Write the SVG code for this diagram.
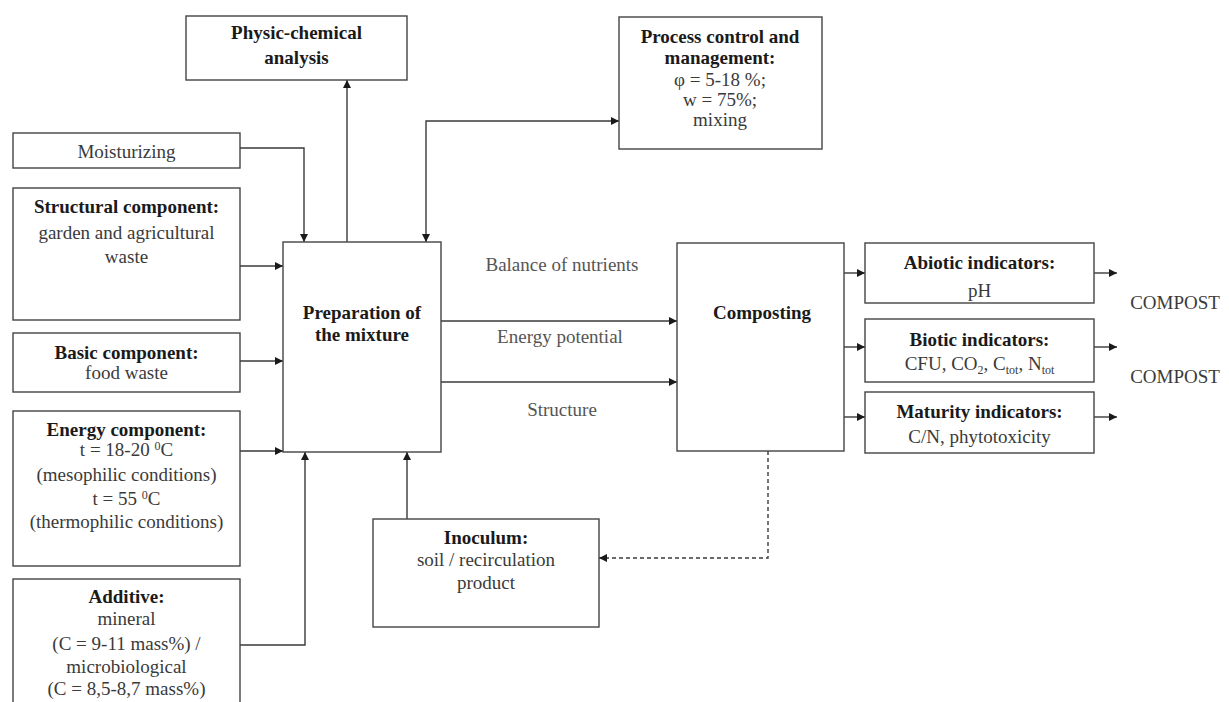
<svg xmlns="http://www.w3.org/2000/svg" width="1229" height="702" viewBox="0 0 1229 702" font-family="'Liberation Serif', 'DejaVu Serif', serif">
<defs>
<style>
.box{fill:#fff;stroke:#444;stroke-width:1.4}
.t{font-family:'Liberation Serif','DejaVu Serif',serif;font-size:19px;fill:#3a3a3a;text-anchor:middle}
.b{font-weight:bold;fill:#1a1a1a}
.g{fill:#555}
.c{fill:none;stroke:#3a3a3a;stroke-width:1.4}
.d{stroke-dasharray:4 3}
</style>
<marker id="ah" viewBox="0 0 10 10" refX="10" refY="5" markerWidth="9" markerHeight="8" markerUnits="userSpaceOnUse" orient="auto-start-reverse">
<path d="M0,0 L10,5 L0,10 z" fill="#1a1a1a"/>
</marker>
</defs>
<rect width="1229" height="702" fill="#fff"/>

<g id="connectors">
<path class="c" d="M347,242 V80" marker-end="url(#ah)"/>
<path class="c" d="M240,148 H304 V242" marker-end="url(#ah)"/>
<path class="c" d="M240,266 H283" marker-end="url(#ah)"/>
<path class="c" d="M240,361 H283" marker-end="url(#ah)"/>
<path class="c" d="M240,451 H283" marker-end="url(#ah)"/>
<path class="c" d="M240,645 H305 V452" marker-end="url(#ah)"/>
<path class="c" d="M407,519 V452" marker-end="url(#ah)"/>
<path class="c" d="M426,242 V121 H619" marker-start="url(#ah)" marker-end="url(#ah)"/>
<path class="c" d="M441,321 H677" marker-end="url(#ah)"/>
<path class="c" d="M441,382 H677" marker-end="url(#ah)"/>
<path class="c" d="M844,273 H865" marker-end="url(#ah)"/>
<path class="c" d="M844,347 H865" marker-end="url(#ah)"/>
<path class="c" d="M844,417 H865" marker-end="url(#ah)"/>
<path class="c" d="M1094,273 H1117" marker-end="url(#ah)"/>
<path class="c" d="M1094,347 H1117" marker-end="url(#ah)"/>
<path class="c" d="M1094,417 H1117" marker-end="url(#ah)"/>
<path class="c d" d="M768,451 V558 H599" marker-end="url(#ah)"/>
<text class="t g" x="562" y="271">Balance of nutrients</text>
<text class="t g" x="560" y="343">Energy potential</text>
<text class="t g" x="562" y="416">Structure</text>
</g>

<g id="physic-chemical">
<rect class="box" x="186" y="16" width="221" height="64"/>
<text class="t b" x="296.5" y="39">Physic-chemical</text>
<text class="t b" x="296.5" y="64">analysis</text>
</g>

<g id="moisturizing">
<rect class="box" x="13" y="133" width="227" height="35"/>
<text class="t" x="126.5" y="158">Moisturizing</text>
</g>

<g id="structural">
<rect class="box" x="13" y="188" width="227" height="132"/>
<text class="t b" x="126.5" y="213">Structural component:</text>
<text class="t" x="126.5" y="239">garden and agricultural</text>
<text class="t" x="126.5" y="263">waste</text>
</g>

<g id="basic">
<rect class="box" x="13" y="333" width="227" height="59"/>
<text class="t b" x="126.5" y="359">Basic component:</text>
<text class="t" x="126.5" y="379">food waste</text>
</g>

<g id="energy">
<rect class="box" x="13" y="411" width="227" height="155"/>
<text class="t b" x="126.5" y="436">Energy component:</text>
<text class="t" x="126.5" y="456">t = 18-20 <tspan font-size="12" dy="-6">0</tspan><tspan dy="6">C</tspan></text>
<text class="t" x="126.5" y="481">(mesophilic conditions)</text>
<text class="t" x="126.5" y="505">t = 55 <tspan font-size="12" dy="-6">0</tspan><tspan dy="6">C</tspan></text>
<text class="t" x="126.5" y="528">(thermophilic conditions)</text>
</g>

<g id="additive">
<rect class="box" x="13" y="579" width="227" height="135"/>
<text class="t b" x="126.5" y="603">Additive:</text>
<text class="t" x="126.5" y="625">mineral</text>
<text class="t" x="126.5" y="650">(C = 9-11 mass%) /</text>
<text class="t" x="126.5" y="673">microbiological</text>
<text class="t" x="126.5" y="695">(C = 8,5-8,7 mass%)</text>
</g>

<g id="preparation">
<rect class="box" x="283" y="242" width="158" height="210"/>
<text class="t b" x="362" y="319">Preparation of</text>
<text class="t b" x="362" y="341">the mixture</text>
</g>

<g id="inoculum">
<rect class="box" x="373" y="519" width="226" height="108"/>
<text class="t b" x="486" y="544">Inoculum:</text>
<text class="t" x="486" y="566">soil / recirculation</text>
<text class="t" x="486" y="589">product</text>
</g>

<g id="process-control">
<rect class="box" x="619" y="17" width="203" height="132"/>
<text class="t b" x="720" y="43">Process control and</text>
<text class="t b" x="720" y="64">management:</text>
<text class="t" x="720" y="86">φ = 5-18 %;</text>
<text class="t" x="720" y="106">w = 75%;</text>
<text class="t" x="720" y="126">mixing</text>
</g>

<g id="composting">
<rect class="box" x="677" y="243" width="167" height="208"/>
<text class="t b" x="762" y="319">Composting</text>
</g>

<g id="abiotic">
<rect class="box" x="865" y="243" width="229" height="60"/>
<text class="t b" x="979.5" y="269">Abiotic indicators:</text>
<text class="t" x="979.5" y="297">pH</text>
</g>

<g id="biotic">
<rect class="box" x="865" y="319" width="229" height="63"/>
<text class="t b" x="979.5" y="346">Biotic indicators:</text>
<text class="t" x="979.5" y="370">CFU, CO<tspan font-size="12" dy="4">2</tspan><tspan dy="-4">, C</tspan><tspan font-size="12" dy="4">tot</tspan><tspan dy="-4">, N</tspan><tspan font-size="12" dy="4">tot</tspan></text>
</g>

<g id="maturity">
<rect class="box" x="865" y="392" width="229" height="61"/>
<text class="t b" x="979.5" y="418">Maturity indicators:</text>
<text class="t" x="979.5" y="443">C/N, phytotoxicity</text>
</g>

<g id="compost-labels">
<text class="t" x="1175" y="309">COMPOST</text>
<text class="t" x="1175" y="383">COMPOST</text>
</g>
</svg>
